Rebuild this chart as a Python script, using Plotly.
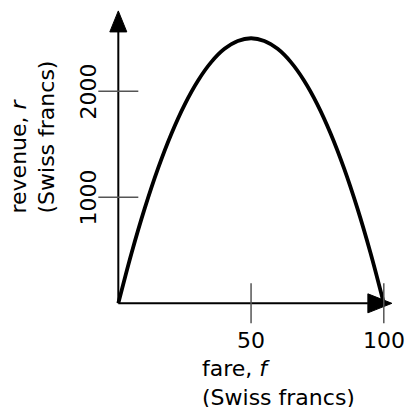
import plotly.graph_objects as go

# data
fare = [0, 5, 10, 15, 20, 25, 30, 35, 40, 45, 50, 55, 60, 65, 70, 75, 80, 85, 90, 95, 100]
revenue = [0, 475, 900, 1275, 1600, 1875, 2100, 2275, 2400, 2475, 2500,
           2475, 2400, 2275, 2100, 1875, 1600, 1275, 900, 475, 0]
x_ticks = [50, 100]
x_tick_labels = ["50", "100"]
y_ticks = [1000, 2000]
y_tick_labels = ["1000", "2000"]

FONT = "DejaVu Sans"
FS = 22
X_END = 94      # x-axis line end (arrow base)
Y_END = 2560    # y-axis line end (arrow base)

fig = go.Figure()
fig.add_trace(go.Scatter(x=fare, y=revenue, mode="lines",
                         line=dict(color="black", width=3.8, shape="spline"),
                         hoverinfo="skip", showlegend=False))

shapes = []
# axes lines
shapes.append(dict(type="line", xref="x", yref="y", x0=0, y0=0, x1=X_END, y1=0,
                   line=dict(color="black", width=2)))
shapes.append(dict(type="line", xref="x", yref="y", x0=0, y0=0, x1=0, y1=Y_END,
                   line=dict(color="black", width=2)))
# arrowheads
shapes.append(dict(type="path", xref="x", yref="y", xsizemode="pixel", ysizemode="pixel",
                   xanchor=X_END, yanchor=0, path="M 0,-9.5 L 0,9.5 L 24,0 Z",
                   fillcolor="black", line=dict(color="black", width=1)))
shapes.append(dict(type="path", xref="x", yref="y", xsizemode="pixel", ysizemode="pixel",
                   xanchor=0, yanchor=Y_END, path="M -8.5,0 L 8.5,0 L 0,21 Z",
                   fillcolor="black", line=dict(color="black", width=1)))
# crossing tick marks
for t in x_ticks:
    shapes.append(dict(type="line", xref="x", yref="y", ysizemode="pixel", yanchor=0,
                       x0=t, x1=t, y0=-20, y1=20, line=dict(color="#555555", width=1.5)))
for t in y_ticks:
    shapes.append(dict(type="line", xref="x", yref="y", xsizemode="pixel", xanchor=0,
                       y0=t, y1=t, x0=-20, x1=20, line=dict(color="#555555", width=1.5)))

annotations = []
for t, lab in zip(x_ticks, x_tick_labels):
    annotations.append(dict(x=t, y=0, xref="x", yref="y", text=lab, showarrow=False,
                            yshift=-37, font=dict(family=FONT, size=FS, color="black")))
for t, lab in zip(y_ticks, y_tick_labels):
    annotations.append(dict(x=0, y=t, xref="x", yref="y", text=lab, showarrow=False,
                            textangle=-90, xshift=-30, font=dict(family=FONT, size=FS, color="black")))
annotations.append(dict(x=200 / 406, y=1 - 354 / 407, xref="paper", yref="paper",
                        xanchor="left", yanchor="top", align="left", showarrow=False,
                        text="fare, <i>f</i><br>(Swiss francs)",
                        font=dict(family=FONT, size=FS, color="black")))
annotations.append(dict(x=4 / 406, y=1 - 216 / 407, xref="paper", yref="paper",
                        xanchor="left", yanchor="bottom", align="left", showarrow=False,
                        textangle=-90,
                        text="revenue, <i>r</i><br>(Swiss francs)",
                        font=dict(family=FONT, size=FS, color="black")))

fig.update_layout(
    width=406, height=407,
    margin=dict(l=0, r=0, t=0, b=0),
    paper_bgcolor="white", plot_bgcolor="white",
    xaxis=dict(range=[-44.56, 108.36], visible=False, fixedrange=True),
    yaxis=dict(range=[-978, 2861], visible=False, fixedrange=True),
    shapes=shapes, annotations=annotations,
)
fig.write_html("out.html", config={"displayModeBar": False},
               post_script="document.body.style.margin='0';document.body.style.overflow='hidden';")
